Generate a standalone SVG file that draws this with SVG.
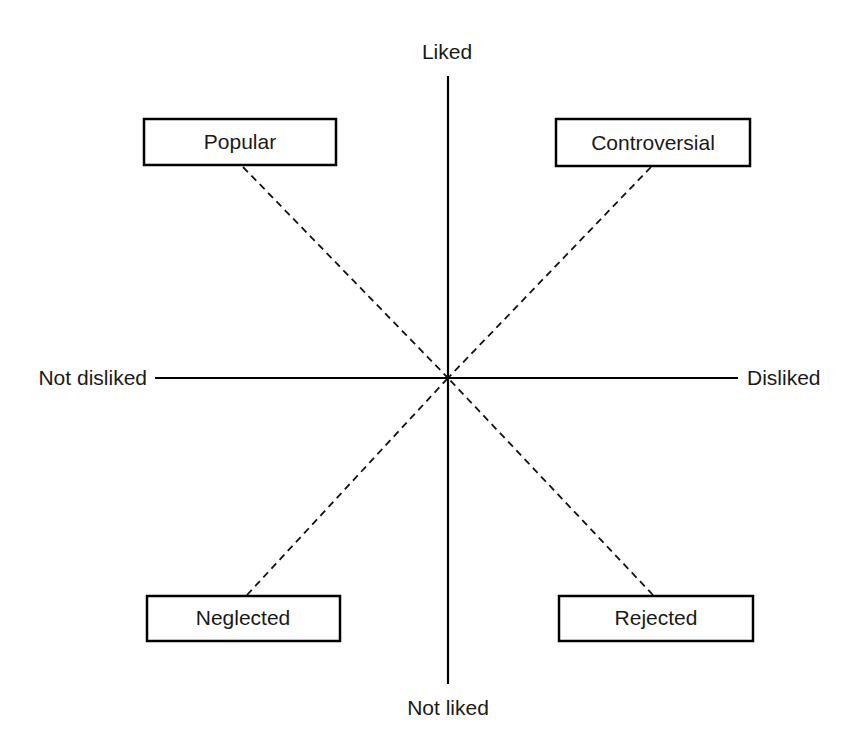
<svg xmlns="http://www.w3.org/2000/svg" width="842" height="742" viewBox="0 0 842 742">
  <style>
    .lbl { font-family: "Liberation Sans", Arial, sans-serif; font-size: 21px; fill: #1a1a1a; }
    .box { fill: #ffffff; stroke: #000000; stroke-width: 2.5; }
    .axis { stroke: #000000; stroke-width: 2.2; fill: none; }
    .dash { stroke: #111111; stroke-width: 1.8; stroke-dasharray: 7 5; fill: none; }
  </style>
  <rect width="842" height="742" fill="#ffffff"/>
  <g id="connectors">
    <line class="axis" x1="448" y1="76" x2="448" y2="684"/>
    <line class="axis" x1="155" y1="378" x2="738" y2="378"/>
    <line class="dash" x1="243" y1="167" x2="448" y2="378"/>
    <line class="dash" x1="651" y1="167" x2="448" y2="378"/>
    <line class="dash" x1="247" y1="595" x2="448" y2="378"/>
    <line class="dash" x1="653" y1="595" x2="448" y2="378"/>
  </g>
  <g id="axis-labels">
    <text class="lbl" x="447" y="59" text-anchor="middle">Liked</text>
    <text class="lbl" x="448" y="715" text-anchor="middle">Not liked</text>
    <text class="lbl" x="147" y="385" text-anchor="end">Not disliked</text>
    <text class="lbl" x="747" y="385" text-anchor="start">Disliked</text>
  </g>
  <g id="popular">
    <rect class="box" x="144" y="119" width="192" height="46"/>
    <text class="lbl" x="240" y="149" text-anchor="middle">Popular</text>
  </g>
  <g id="controversial">
    <rect class="box" x="556" y="119" width="194" height="47"/>
    <text class="lbl" x="653" y="150" text-anchor="middle">Controversial</text>
  </g>
  <g id="neglected">
    <rect class="box" x="147" y="596" width="193" height="45"/>
    <text class="lbl" x="243" y="625" text-anchor="middle">Neglected</text>
  </g>
  <g id="rejected">
    <rect class="box" x="559" y="596" width="194" height="45"/>
    <text class="lbl" x="656" y="625" text-anchor="middle">Rejected</text>
  </g>
</svg>
